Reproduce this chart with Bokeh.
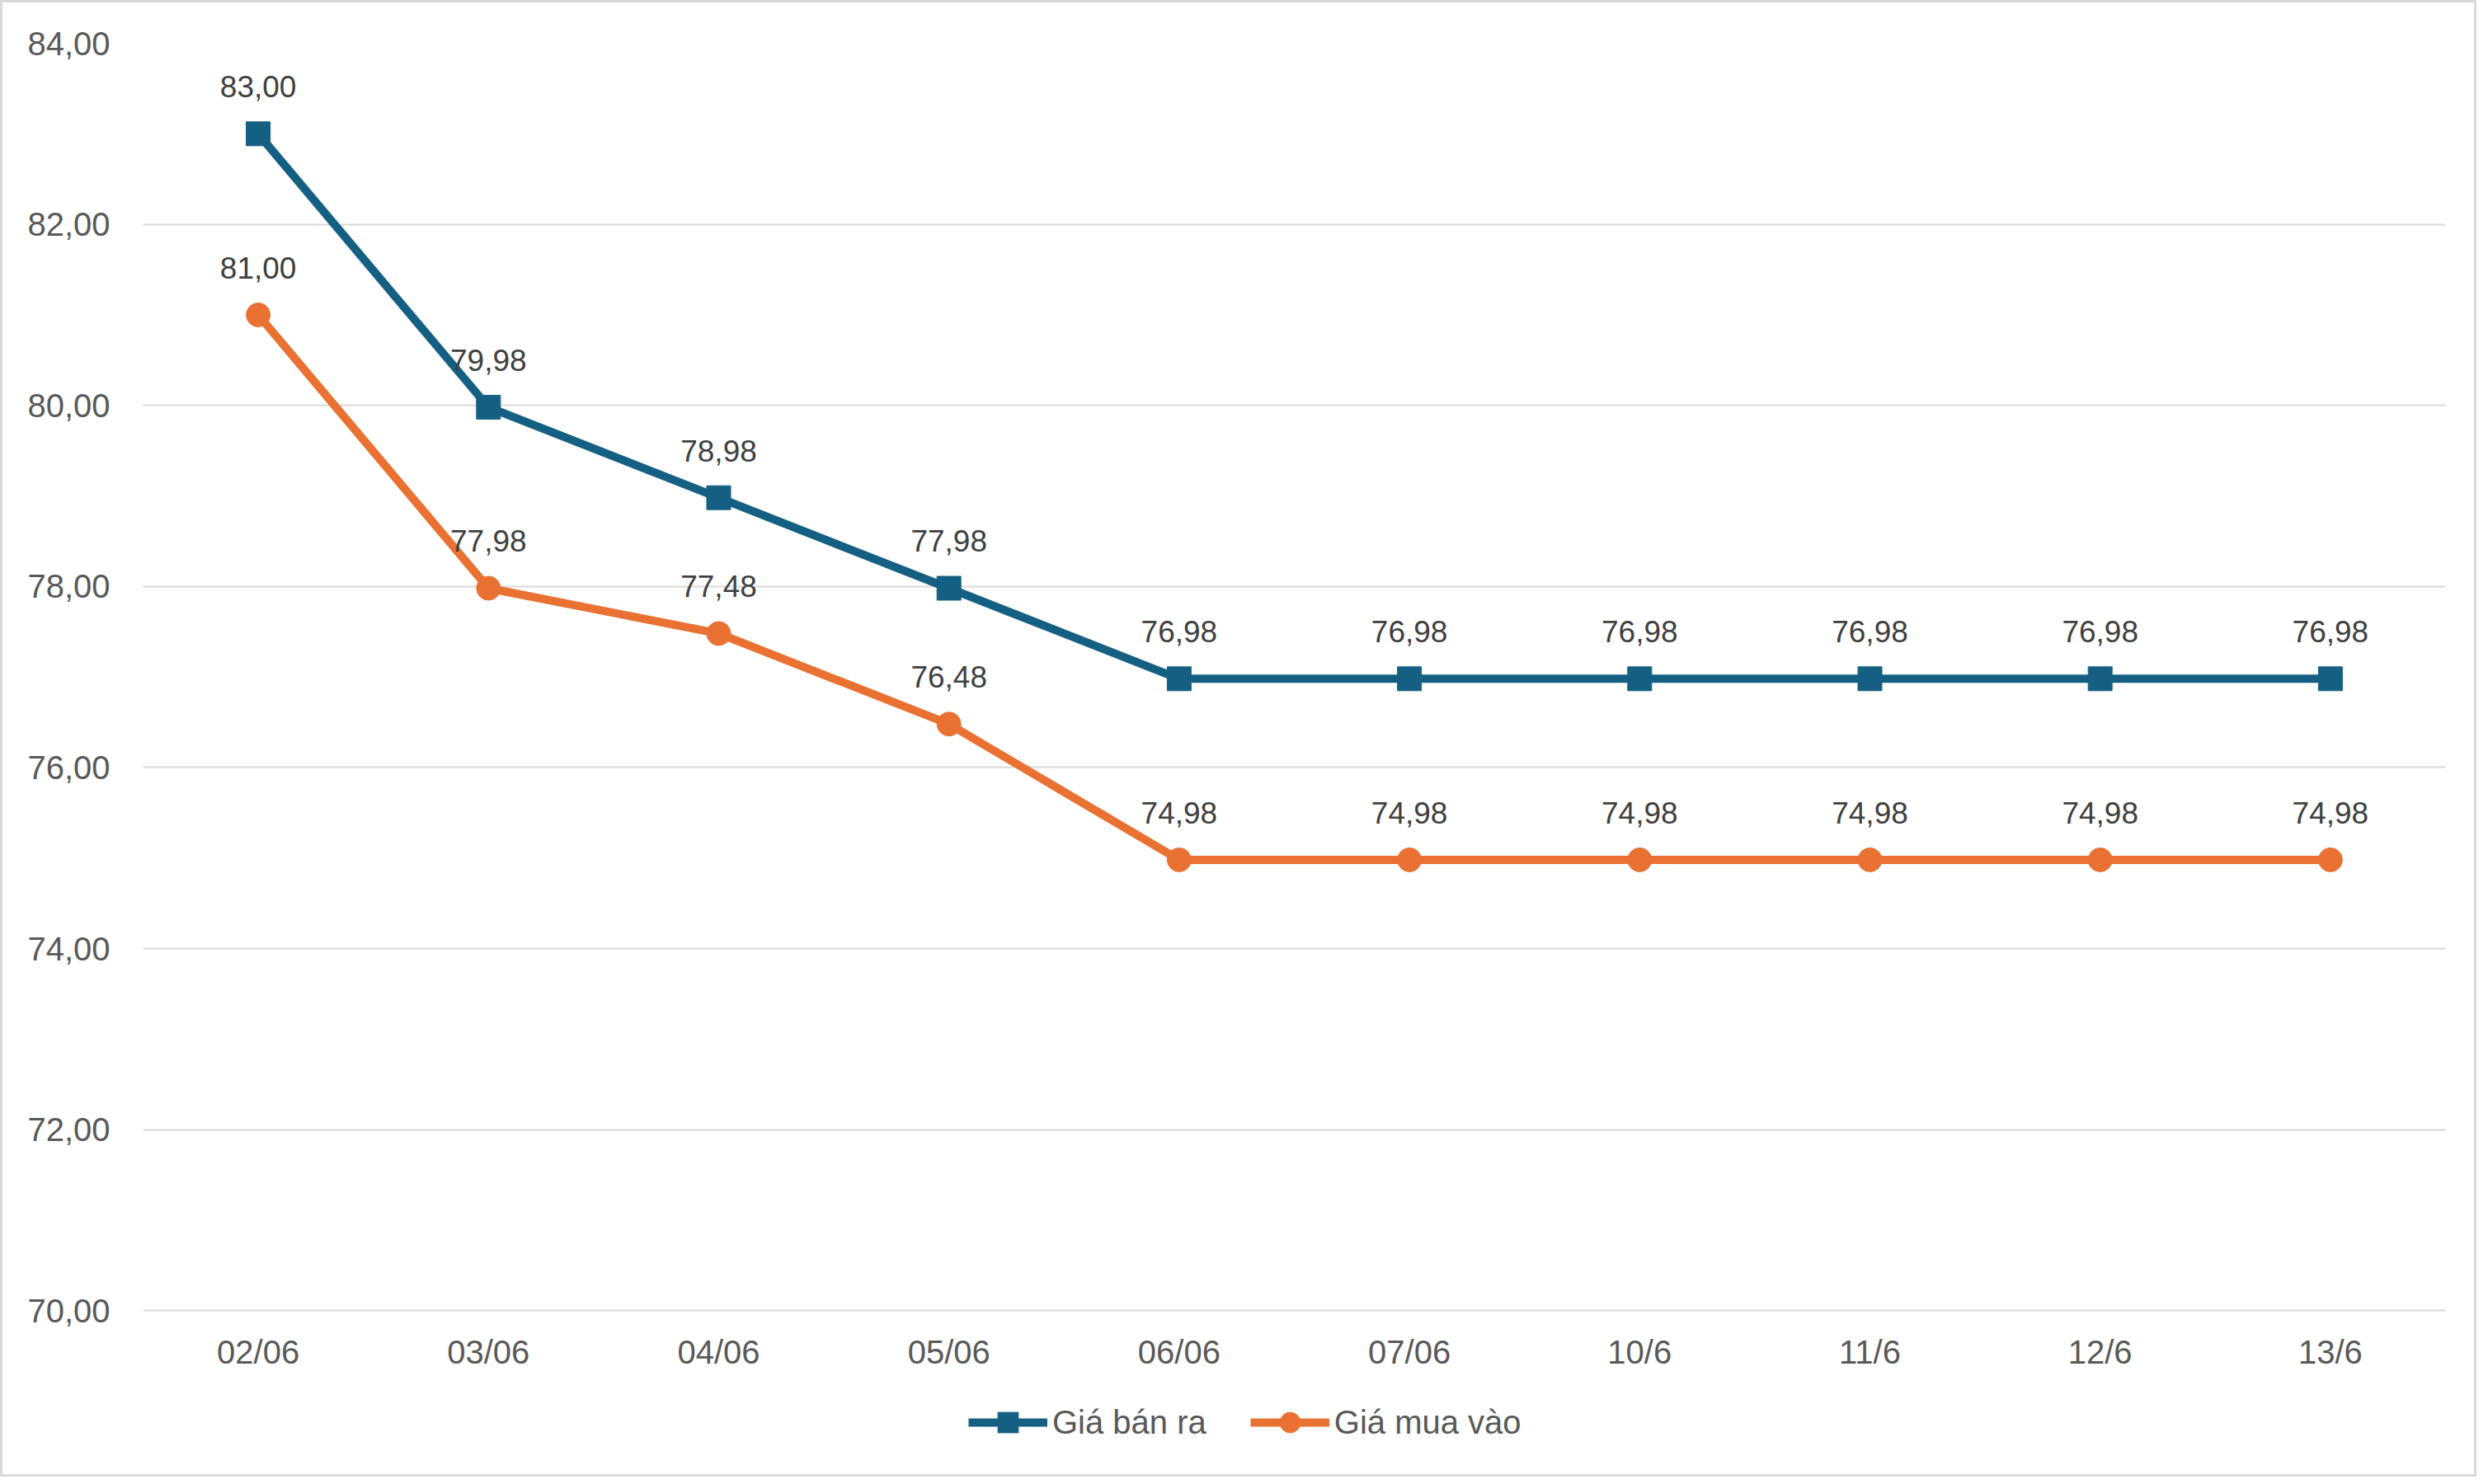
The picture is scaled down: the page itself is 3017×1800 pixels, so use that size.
from bokeh.plotting import figure
from bokeh.models import FactorRange, Range1d, FixedTicker, Legend, LegendItem, ColumnDataSource
from bokeh.core.properties import value
from bokeh.embed import file_html
from bokeh.resources import INLINE

dates = ["02/06", "03/06", "04/06", "05/06", "06/06", "07/06", "10/6", "11/6", "12/6", "13/6"]
gia_ban_ra = [83.00, 79.98, 78.98, 77.98, 76.98, 76.98, 76.98, 76.98, 76.98, 76.98]
gia_mua_vao = [81.00, 77.98, 77.48, 76.48, 74.98, 74.98, 74.98, 74.98, 74.98, 74.98]
y_ticks = [70, 72, 74, 76, 78, 80, 82, 84]

BLUE = "#156082"
ORANGE = "#E97132"
FONT = "Liberation Sans"

def fmt(v):
    return f"{v:.2f}".replace(".", ",")

W, H = 3003, 1791
TOP, LEFT, RIGHT = 49, 170, 41
PX_PER_UNIT = 109.8
Y_MAX = 84
y_min = Y_MAX - (H - TOP) / PX_PER_UNIT  # frame extends into legend area

p = figure(
    x_range=FactorRange(*dates, range_padding=0),
    y_range=Range1d(y_min, Y_MAX),
    width=W, height=H,
    output_backend="svg", toolbar_location=None,
    min_border_left=LEFT, min_border_top=TOP, min_border_right=RIGHT, min_border_bottom=0,
)
p.styles = {"border": "3px solid #D9D9D9"}
p.outline_line_color = None
p.background_fill_color = "white"
p.border_fill_color = "white"

p.xgrid.grid_line_color = None
p.ygrid.grid_line_color = "#D9D9D9"
p.ygrid.grid_line_width = 2

p.xaxis.fixed_location = y_ticks[0]
p.yaxis.ticker = FixedTicker(ticks=y_ticks)
p.yaxis.major_label_overrides = {t: fmt(t) for t in y_ticks}
for ax in (p.xaxis, p.yaxis):
    ax.axis_line_color = None
    ax.major_tick_line_color = None
    ax.minor_tick_line_color = None
    ax.major_tick_in = 0
    ax.major_tick_out = 0
    ax.major_label_text_font = FONT
    ax.major_label_text_font_size = "40px"
    ax.major_label_text_color = "#595959"
p.yaxis.major_label_standoff = 40
p.xaxis.major_label_standoff = 28

src_b = ColumnDataSource(dict(x=dates, y=gia_ban_ra, lbl=[fmt(v) for v in gia_ban_ra]))
src_m = ColumnDataSource(dict(x=dates, y=gia_mua_vao, lbl=[fmt(v) for v in gia_mua_vao]))

lb = p.line("x", "y", source=src_b, line_color=BLUE, line_width=10, line_join="round")
sb = p.scatter("x", "y", source=src_b, marker="square", size=29, fill_color=BLUE, line_color=BLUE)
lm = p.line("x", "y", source=src_m, line_color=ORANGE, line_width=10, line_join="round")
sm = p.scatter("x", "y", source=src_m, marker="circle", size=29, fill_color=ORANGE, line_color=ORANGE)

for src in (src_b, src_m):
    p.text("x", "y", text="lbl", source=src, y_offset=-57, text_align="center",
           text_baseline="middle", text_font=value(FONT), text_font_size="37px",
           text_color="#404040")

legend = Legend(
    items=[LegendItem(label="Giá bán ra", renderers=[lb, sb]),
           LegendItem(label="Giá mua vào", renderers=[lm, sm])],
    orientation="horizontal", location=(1001, 38),
    padding=0, margin=0, spacing=53, label_standoff=6,
    glyph_width=96, glyph_height=62,
    label_text_font=FONT, label_text_font_size="40px", label_text_color="#595959",
    border_line_color=None, background_fill_alpha=0,
)
p.add_layout(legend, "center")

open("out.html", "w").write(file_html(p, INLINE))
